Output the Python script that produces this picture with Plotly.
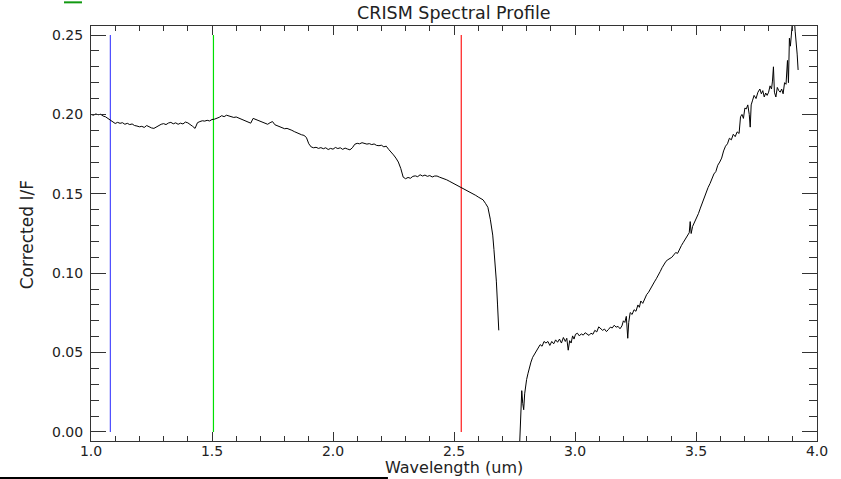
import plotly.graph_objects as go

# CRISM spectral profile, short-wave segment (before the 2.7 um gap)
wl_short = [
    1.000, 1.010, 1.020, 1.030, 1.040, 1.050, 1.060, 1.070, 1.080, 1.090,
    1.100, 1.110, 1.120, 1.130, 1.140, 1.150, 1.160, 1.170, 1.180, 1.190,
    1.200, 1.210, 1.220, 1.230, 1.240, 1.250, 1.260, 1.270, 1.280, 1.290,
    1.300, 1.310, 1.320, 1.330, 1.340, 1.350, 1.360, 1.370, 1.380, 1.390,
    1.400, 1.410, 1.420, 1.430, 1.440, 1.450, 1.460, 1.470, 1.480, 1.490,
    1.500, 1.510, 1.520, 1.530, 1.540, 1.550, 1.560, 1.570, 1.580, 1.590,
    1.600, 1.610, 1.620, 1.630, 1.640, 1.650, 1.660, 1.670, 1.680, 1.690,
    1.700, 1.710, 1.720, 1.730, 1.740, 1.750, 1.760, 1.770, 1.780, 1.790,
    1.800, 1.810, 1.820, 1.830, 1.840, 1.850, 1.860, 1.870, 1.880, 1.890,
    1.900, 1.910, 1.920, 1.930, 1.940, 1.950, 1.960, 1.970, 1.980, 1.990,
    2.000, 2.010, 2.020, 2.030, 2.040, 2.050, 2.060, 2.070, 2.080, 2.090,
    2.100, 2.110, 2.120, 2.130, 2.140, 2.150, 2.160, 2.170, 2.180, 2.190,
    2.200, 2.210, 2.220, 2.230, 2.240, 2.250, 2.260, 2.270, 2.280, 2.290,
    2.300, 2.310, 2.320, 2.330, 2.340, 2.350, 2.360, 2.370, 2.380, 2.390,
    2.400, 2.410, 2.420, 2.430, 2.440, 2.450, 2.460, 2.470, 2.480, 2.490,
    2.500, 2.510, 2.520, 2.530, 2.540, 2.550, 2.560, 2.570, 2.580, 2.590,
    2.600, 2.610, 2.620, 2.630, 2.640, 2.650, 2.655, 2.660, 2.665, 2.670,
    2.675, 2.680, 2.685,
]
if_short = [
    0.2000, 0.1995, 0.2003, 0.1998, 0.2001, 0.1990, 0.1985, 0.1975, 0.1962, 0.1950,
    0.1943, 0.1950, 0.1944, 0.1948, 0.1938, 0.1944, 0.1936, 0.1940, 0.1930, 0.1927,
    0.1922, 0.1925, 0.1918, 0.1930, 0.1921, 0.1915, 0.1912, 0.1922, 0.1930, 0.1938,
    0.1942, 0.1936, 0.1946, 0.1950, 0.1941, 0.1947, 0.1938, 0.1945, 0.1940, 0.1952,
    0.1947, 0.1938, 0.1925, 0.1912, 0.1948, 0.1955, 0.1960, 0.1958, 0.1963, 0.1959,
    0.1968, 0.1970, 0.1975, 0.1982, 0.1992, 0.1986, 0.1995, 0.1990, 0.1987, 0.1981,
    0.1984, 0.1978, 0.1973, 0.1966, 0.1960, 0.1952, 0.1945, 0.1975, 0.1968, 0.1962,
    0.1958, 0.1950, 0.1945, 0.1938, 0.1948, 0.1955, 0.1935, 0.1928, 0.1922, 0.1915,
    0.1910, 0.1912, 0.1907, 0.1900, 0.1892, 0.1885, 0.1876, 0.1872, 0.1868, 0.1855,
    0.1815, 0.1795, 0.1790, 0.1793, 0.1786, 0.1791, 0.1784, 0.1790, 0.1779, 0.1786,
    0.1781, 0.1792, 0.1785, 0.1790, 0.1780, 0.1788, 0.1782, 0.1777, 0.1790, 0.1812,
    0.1818, 0.1815, 0.1822, 0.1818, 0.1813, 0.1816, 0.1810, 0.1814, 0.1805, 0.1803,
    0.1806, 0.1796, 0.1800, 0.1780, 0.1765, 0.1745, 0.1725, 0.1700, 0.1660, 0.1605,
    0.1595, 0.1603, 0.1598, 0.1610, 0.1613, 0.1608, 0.1620, 0.1612, 0.1618, 0.1610,
    0.1615, 0.1606, 0.1612, 0.1612, 0.1605, 0.1600, 0.1592, 0.1588, 0.1580, 0.1572,
    0.1565, 0.1557, 0.1550, 0.1540, 0.1532, 0.1525, 0.1518, 0.1510, 0.1500, 0.1490,
    0.1480, 0.1470, 0.1462, 0.1440, 0.1415, 0.1340, 0.1300, 0.1240, 0.1150, 0.1060,
    0.0950, 0.0800, 0.0640,
]

# long-wave segment (after the gap)
wl_long = [
    2.768, 2.772, 2.776, 2.780, 2.784, 2.788, 2.792, 2.796, 2.800, 2.806,
    2.812, 2.818, 2.825, 2.832, 2.840, 2.848, 2.856, 2.864, 2.872, 2.880,
    2.888, 2.896, 2.904, 2.912, 2.920, 2.928, 2.936, 2.944, 2.952, 2.960,
    2.966, 2.972, 2.978, 2.984, 2.990, 2.996, 3.002, 3.010, 3.018, 3.026,
    3.034, 3.042, 3.050, 3.058, 3.066, 3.074, 3.082, 3.090, 3.098, 3.106,
    3.114, 3.122, 3.130, 3.138, 3.146, 3.154, 3.162, 3.170, 3.178, 3.186,
    3.194, 3.200, 3.206, 3.212, 3.218, 3.222, 3.228, 3.236, 3.244, 3.252,
    3.260, 3.266, 3.272, 3.280, 3.288, 3.296, 3.304, 3.312, 3.320, 3.328,
    3.336, 3.344, 3.352, 3.360, 3.368, 3.376, 3.384, 3.392, 3.400, 3.408,
    3.416, 3.424, 3.432, 3.440, 3.448, 3.456, 3.464, 3.472, 3.476, 3.480,
    3.486, 3.494, 3.502, 3.510, 3.518, 3.526, 3.534, 3.542, 3.550, 3.558,
    3.566, 3.574, 3.582, 3.590, 3.598, 3.606, 3.614, 3.622, 3.630, 3.638,
    3.646, 3.654, 3.662, 3.670, 3.678, 3.684, 3.690, 3.696, 3.702, 3.708,
    3.714, 3.720, 3.724, 3.728, 3.734, 3.740, 3.748, 3.756, 3.764, 3.770,
    3.776, 3.782, 3.788, 3.794, 3.800, 3.806, 3.812, 3.816, 3.820, 3.824,
    3.830, 3.836, 3.842, 3.848, 3.854, 3.860, 3.866, 3.872, 3.878, 3.882,
    3.886, 3.890, 3.894, 3.898, 3.902, 3.906, 3.910, 3.914, 3.918, 3.922,
]
if_long = [
    -0.0200, -0.0030, 0.0120, 0.0260, 0.0180, 0.0140, 0.0240, 0.0290, 0.0330, 0.0370,
    0.0410, 0.0440, 0.0470, 0.0490, 0.0510, 0.0530, 0.0550, 0.0540, 0.0570, 0.0560,
    0.0570, 0.0545, 0.0570, 0.0555, 0.0580, 0.0565, 0.0585, 0.0560, 0.0595, 0.0570,
    0.0590, 0.0515, 0.0575, 0.0560, 0.0605, 0.0585, 0.0615, 0.0622, 0.0605, 0.0618,
    0.0610, 0.0625, 0.0615, 0.0608, 0.0622, 0.0615, 0.0640, 0.0630, 0.0662, 0.0650,
    0.0640, 0.0648, 0.0632, 0.0645, 0.0660, 0.0655, 0.0672, 0.0660, 0.0665, 0.0650,
    0.0668, 0.0700, 0.0690, 0.0728, 0.0590, 0.0690, 0.0752, 0.0740, 0.0770, 0.0760,
    0.0800, 0.0785, 0.0825, 0.0810, 0.0840, 0.0865, 0.0880, 0.0905, 0.0920, 0.0945,
    0.0965, 0.0985, 0.1010, 0.1035, 0.1060, 0.1075, 0.1085, 0.1092, 0.1100, 0.1115,
    0.1130, 0.1125, 0.1155, 0.1175, 0.1195, 0.1215, 0.1235, 0.1255, 0.1325, 0.1250,
    0.1295, 0.1320, 0.1345, 0.1375, 0.1410, 0.1445, 0.1480, 0.1510, 0.1540, 0.1565,
    0.1600, 0.1625, 0.1640, 0.1680, 0.1700, 0.1725, 0.1770, 0.1800, 0.1815, 0.1850,
    0.1840, 0.1875, 0.1860, 0.1890, 0.1880, 0.1985, 0.2000, 0.1975, 0.2040, 0.2035,
    0.2060, 0.2000, 0.1920, 0.2060, 0.2090, 0.2120, 0.2100, 0.2140, 0.2160, 0.2130,
    0.2150, 0.2110, 0.2135, 0.2120, 0.2140, 0.2180, 0.2160, 0.2210, 0.2300, 0.2140,
    0.2110, 0.2170, 0.2150, 0.2140, 0.2160, 0.2130, 0.2200, 0.2190, 0.2340, 0.2200,
    0.2480, 0.2430, 0.2500, 0.2580, 0.2560, 0.2600, 0.2520, 0.2460, 0.2380, 0.2280,
]

# RGB band markers (wavelength, colour)
band_wl = [1.080, 1.506, 2.530]
band_colors = ["#4a4aff", "#00e000", "#ff1a1a"]
band_span = [0.0, 0.25]

x_ticks = [1.0, 1.5, 2.0, 2.5, 3.0, 3.5, 4.0]
x_labels = ["1.0", "1.5", "2.0", "2.5", "3.0", "3.5", "4.0"]
y_ticks = [0.00, 0.05, 0.10, 0.15, 0.20, 0.25]
y_labels = ["0.00", "0.05", "0.10", "0.15", "0.20", "0.25"]

FONT = "DejaVu Sans"
TXT = "#222222"
AX = "#333333"

fig = go.Figure()

for wl, col in zip(band_wl, band_colors):
    fig.add_trace(go.Scatter(x=[wl, wl], y=band_span, mode="lines",
                             line=dict(color=col, width=1.2), showlegend=False))

fig.add_trace(go.Scatter(x=wl_short, y=if_short, mode="lines",
                         line=dict(color="black", width=1), showlegend=False))
fig.add_trace(go.Scatter(x=wl_long, y=if_long, mode="lines",
                         line=dict(color="black", width=1), showlegend=False))

fig.update_xaxes(
    range=[1.0, 4.0], tickvals=x_ticks, ticktext=x_labels,
    showgrid=False, zeroline=False, showline=True, linecolor=AX, linewidth=1,
    mirror="ticks", ticks="inside", ticklen=9, tickcolor=AX, tickwidth=1,
    ticklabelstandoff=-3,
    minor=dict(dtick=0.1, ticks="inside", ticklen=5, tickcolor=AX, showgrid=False),
    tickfont=dict(family=FONT, size=14, color=TXT),
)
fig.update_yaxes(
    range=[-0.0057, 0.2557], tickvals=y_ticks, ticktext=y_labels,
    showgrid=False, zeroline=False, showline=True, linecolor=AX, linewidth=1,
    mirror="ticks", ticks="inside", ticklen=15, tickcolor=AX, tickwidth=1,
    ticklabelstandoff=4,
    minor=dict(dtick=0.01, ticks="inside", ticklen=8, tickcolor=AX, showgrid=False),
    tickfont=dict(family=FONT, size=14, color=TXT),
)

fig.update_layout(
    width=841, height=479,
    margin=dict(l=91, r=24, t=26, b=38),
    plot_bgcolor="white", paper_bgcolor="white",
    showlegend=False,
    annotations=[
        dict(text="CRISM Spectral Profile", xref="paper", yref="paper",
             x=0.5, y=1.031, xanchor="center", yanchor="middle", showarrow=False,
             font=dict(family=FONT, size=17.5, color=TXT)),
        dict(text="Wavelength (um)", xref="paper", yref="paper",
             x=0.5, y=-0.063, xanchor="center", yanchor="middle", showarrow=False,
             font=dict(family=FONT, size=16, color=TXT)),
        dict(text="Corrected I/F", xref="paper", yref="paper", textangle=-90,
             x=-0.088, y=0.496, xanchor="center", yanchor="middle", showarrow=False,
             font=dict(family=FONT, size=17, color=TXT)),
    ],
    shapes=[
        # small green mark in the top-left corner
        dict(type="line", xref="paper", yref="paper",
             x0=-0.0372, x1=-0.0124, y0=1.057, y1=1.057,
             line=dict(color="#119911", width=2)),
        # black rule under the chart
        dict(type="line", xref="paper", yref="paper",
             x0=-0.126, x1=0.409, y0=-0.0892, y1=-0.0892,
             line=dict(color="black", width=2)),
    ],
)

# drop the default 8px body margin so the figure sits at the page corner
fig.write_html("out.html", config={"displayModeBar": False},
               post_script="document.body.style.margin='0';")
